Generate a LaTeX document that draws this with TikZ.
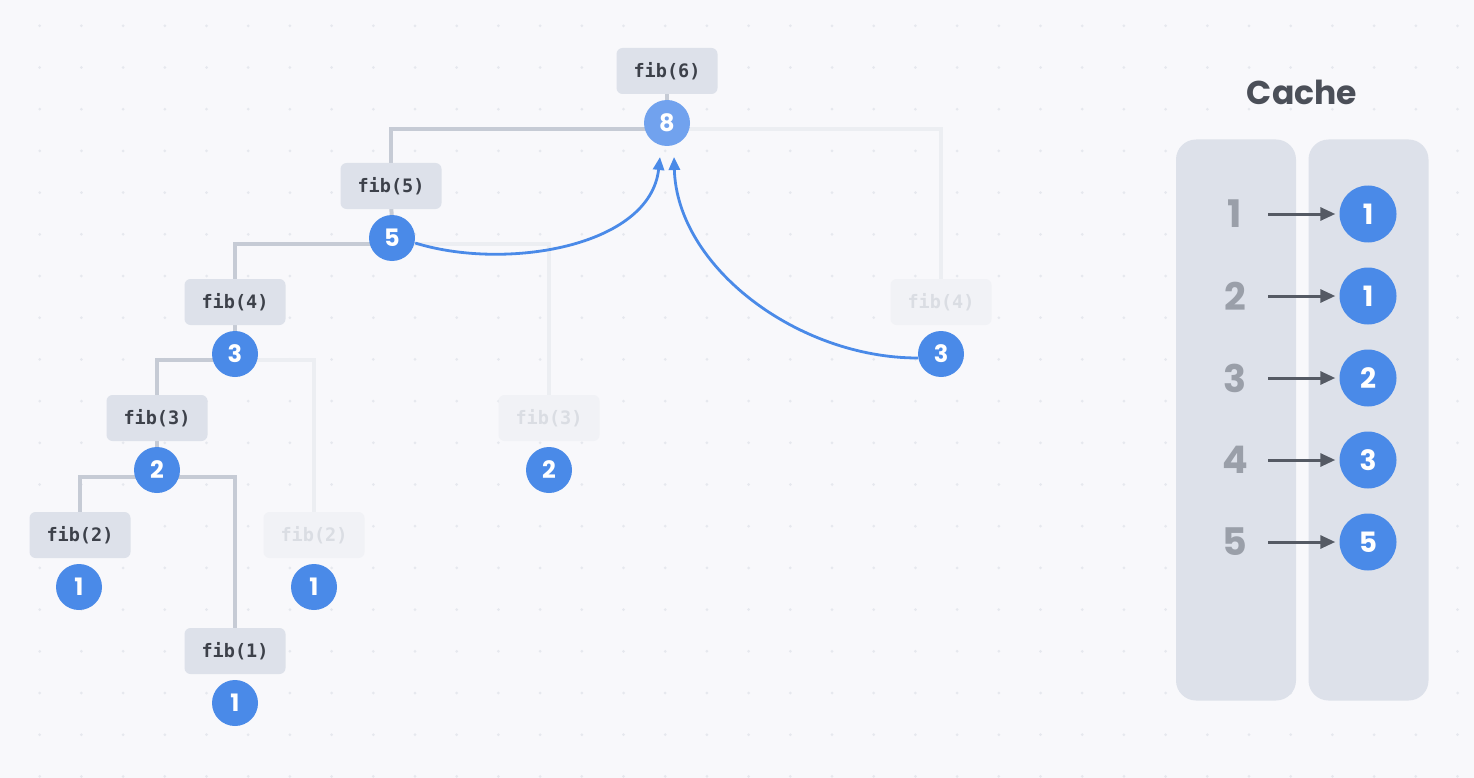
\documentclass[tikz,border=0pt]{standalone}
\usepackage{fontspec}
\setmainfont{Poppins}
\setmonofont{DejaVu Sans Mono}
\usepackage{xcolor}
\usepackage{tikz}
\usetikzlibrary{arrows.meta}
\usetikzlibrary{positioning}
\definecolor{bgc}{HTML}{F8F8FB}
\definecolor{dotc}{HTML}{E6E8EE}
\definecolor{boxc}{HTML}{DDE1EA}
\definecolor{boxf}{HTML}{F1F2F6}
\definecolor{labc}{HTML}{3D414A}
\definecolor{labf}{HTML}{DADDE3}
\definecolor{edgec}{HTML}{C6CBD5}
\definecolor{edgefc}{HTML}{ECEEF2}
\definecolor{bluec}{HTML}{4A8AE8}
\definecolor{bluel}{HTML}{71A2EE}
\definecolor{keyc}{HTML}{9A9FA9}
\definecolor{arrc}{HTML}{555A64}
\definecolor{titc}{HTML}{4B4F58}
\pgfdeclarelayer{bg}
\pgfdeclarelayer{lines}
\pgfsetlayers{bg,lines,main}
\tikzset{
    fibbox/.style = {rectangle, rounded corners=6pt, fill=boxc, text=labc, inner sep=0pt,
        font=\ttfamily\bfseries\fontsize{18.5}{18.5}\selectfont, minimum width=101pt, minimum height=46pt},
    fibboxf/.style = {fibbox, fill=boxf, text=labf},
    valnode/.style = {circle, fill=bluec, text=white, inner sep=0pt, minimum size=46pt,
        font=\bfseries\fontsize{24}{24}\selectfont},
    valnodel/.style = {valnode, fill=bluel},
}

\begin{document}
\begin{tikzpicture}[x=1pt,y=1pt]
\tikzset{
    edgen/.style = {-, line width=4pt, edgec},
    edgef/.style = {-, line width=4pt, edgefc},
    recall/.style = {-{Triangle[length=13pt,width=11pt]}, line width=2.8pt, bluec},
    cachecol/.style = {rectangle, rounded corners=20pt, fill=boxc, minimum width=120pt, minimum height=561pt},
    keynode/.style = {text=keyc, minimum width=66pt, inner sep=0pt, font=\bfseries\fontsize{38}{38}\selectfont},
    cval/.style = {valnode, minimum size=57pt, font=\bfseries\fontsize{28}{28}\selectfont},
    cget/.style = {-{Triangle[length=15pt,width=13pt]}, line width=3pt, arrc, shorten >=4pt},
}
\begin{pgfonlayer}{bg}
\path[use as bounding box, fill=bgc] (0,0) rectangle (1474,-778);
\foreach \i in {1,...,35}
  \foreach \j in {0,...,18}
    \fill[dotc] ({41.7*\i-2},{-25.8-41.7*\j}) circle (1.5);
\end{pgfonlayer}
%
\node[fibbox] at (667,-71) (f6) {fib(6)};
\node[valnodel] at (667,-123) (r6) {8};
\node[fibbox] at (391,-186) (f5) {fib(5)};
\node[valnode] at (392,-238) (r5) {5};
\node[fibbox] at (235,-302) (f4) {fib(4)};
\node[valnode] at (235,-354) (r4) {3};
\node[fibbox] at (157,-418) (f3) {fib(3)};
\node[valnode] at (157,-470) (r3) {2};
\node[fibbox] at (80,-535) (f2) {fib(2)};
\node[valnode] at (79,-587) (r2) {1};
\node[fibbox] at (235,-651) (f1) {fib(1)};
\node[valnode] at (235,-703) (r1) {1};
\node[fibboxf] at (314,-535) (g2) {fib(2)};
\node[valnode] at (314,-587) (s2) {1};
\node[fibboxf] at (549,-418) (g3) {fib(3)};
\node[valnode] at (549,-470) (s3) {2};
\node[fibboxf] at (941,-302) (g4) {fib(4)};
\node[valnode] at (941,-354) (s4) {3};
%
\begin{pgfonlayer}{lines}
\draw[edgen] (f6) -- (r6);
\draw[edgen] (f5) -- (r5);
\draw[edgen] (f4) -- (r4);
\draw[edgen] (f3) -- (r3);
\draw[edgef] (g4.north) |- ([yshift=-6pt]r6.center);
\draw[edgen] (f5.north) |- ([yshift=-6pt]r6.center);
\draw[edgef] (g3.north) |- ([yshift=-6pt]r5.center);
\draw[edgen] (f4.north) |- ([yshift=-6pt]r5.center);
\draw[edgef] (g2.north) |- ([yshift=-6pt]r4.center);
\draw[edgen] (f3.north) |- ([yshift=-6pt]r4.center);
\draw[edgen] (f2.north) |- ([yshift=-7pt]r3.center);
\draw[edgen] (f1.north) |- ([yshift=-7pt]r3.center);
\end{pgfonlayer}
%
\coordinate (in5) at ([xshift=-7pt,yshift=-34pt]r6.center);
\coordinate (in4) at ([xshift=7pt,yshift=-34pt]r6.center);
\draw[recall] ([yshift=-5pt]r5.east) .. controls +(90,-28) and +(-10,-90) .. (in5);
\draw[recall] ([yshift=-4pt]s4.west) .. controls +(-120,0) and +(3,-110) .. (in4);
%
\node[font=\bfseries\fontsize{33}{33}\selectfont, text=titc] at (1302,-92) (title) {Cache};
\node[cachecol] at (1236,-420) (keys) {};
\node[cachecol] at (1368.5,-420) (vals) {};
\foreach \k/\v [count=\i] in {1/1,2/1,3/2,4/3,5/5} {
    \node[keynode] at (1235,{-214-82*(\i-1)}) (k\i) {\k};
    \node[cval] at (1368,{-214-82*(\i-1)}) (v\i) {\v};
    \draw[cget] (k\i) -- (v\i);
}
\end{tikzpicture}
\end{document}
